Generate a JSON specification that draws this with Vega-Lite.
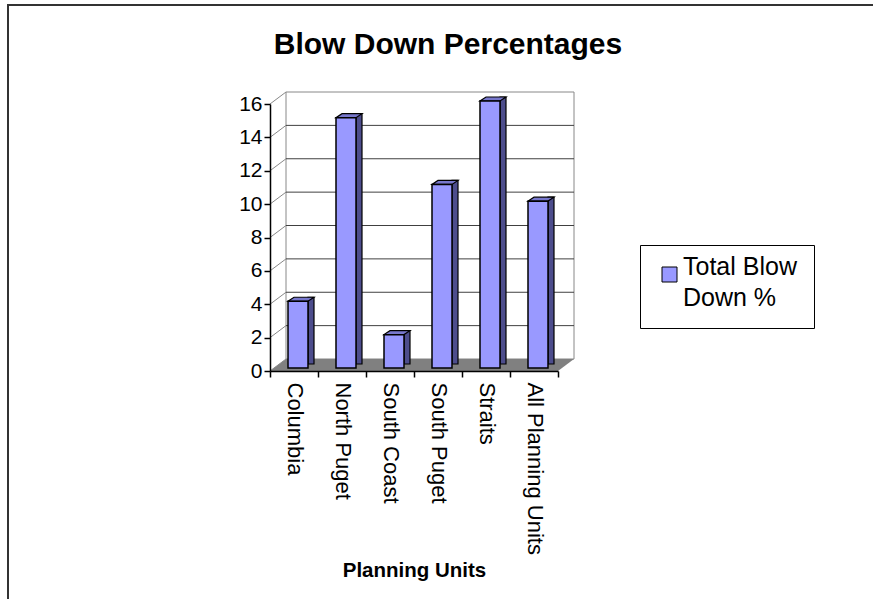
{
  "$schema": "https://vega.github.io/schema/vega-lite/v6.json",
  "width": 870,
  "height": 600,
  "autosize": {"type": "none"},
  "padding": {"left": 8, "top": 5, "right": 0, "bottom": 0},
  "background": "white",
  "config": {"font": "Liberation Sans", "view": {"stroke": "#333333", "strokeWidth": 2}, "style": {"guide-label": {"lineHeight": 31}}},
  "title": {"text": "Blow Down Percentages", "fontSize": 30, "fontWeight": "bold", "color": "black", "anchor": "middle", "frame": "group", "dx": 5, "baseline": "alphabetic", "offset": -79},
  "datasets": {
    "bars": [
      {"unit": "Columbia", "pct": 4, "series": "Total Blow Down %"},
      {"unit": "North Puget", "pct": 15, "series": "Total Blow Down %"},
      {"unit": "South Coast", "pct": 2, "series": "Total Blow Down %"},
      {"unit": "South Puget", "pct": 11, "series": "Total Blow Down %"},
      {"unit": "Straits", "pct": 16, "series": "Total Blow Down %"},
      {"unit": "All Planning Units", "pct": 10, "series": "Total Blow Down %"}
    ],
    "grid": [{"v": 0}, {"v": 2}, {"v": 4}, {"v": 6}, {"v": 8}, {"v": 10}, {"v": 12}, {"v": 14}, {"v": 16}],
    "one": [{"k": 1}]
  },
  "layer": [
    {
      "data": {"name": "one"},
      "mark": {"type": "point", "shape": "M -1 -0.927 L 1 -0.927 L 1 0.927 L -1 0.927 Z", "size": 82944, "filled": true, "fill": "white", "stroke": "#888888", "strokeWidth": 1, "opacity": 1, "xOffset": 16, "yOffset": -12},
      "encoding": {
        "x": {
          "datum": "South Puget", "bandPosition": 0,
          "scale": {"domain": ["Columbia", "North Puget", "South Coast", "South Puget", "Straits", "All Planning Units"], "range": [262, 550], "paddingInner": 0, "paddingOuter": 0},
          "axis": {"orient": "bottom", "offset": -234, "zindex": 1, "tickBand": "extent", "tickSize": 6, "tickColor": "black", "tickWidth": 1.5, "domainColor": "black", "domainWidth": 1.5, "labelAngle": 90, "labelAlign": "left", "labelBaseline": "middle", "labelFontSize": 22, "labelColor": "black", "labelPadding": 5, "labelLimit": 300, "grid": false, "title": "Planning Units", "titleFontSize": 20.5, "titleFontWeight": "bold", "titleColor": "black", "titlePadding": 6}
        },
        "y": {
          "datum": 8, "type": "quantitative",
          "scale": {"domain": [0, 16], "range": [366, 99], "nice": false, "zero": true},
          "axis": {"orient": "left", "offset": -262, "zindex": 1, "values": [0, 2, 4, 6, 8, 10, 12, 14, 16], "grid": false, "tickSize": 6, "tickColor": "black", "tickWidth": 1.5, "domainColor": "black", "domainWidth": 1.5, "labelFontSize": 21, "labelColor": "black", "labelPadding": 2, "title": null}
        }
      }
    },
    {
      "data": {"name": "one"},
      "mark": {"type": "point", "shape": "M -1 0.03947 L 0.89474 0.03947 L 1 -0.03947 L -0.89474 -0.03947 Z", "size": 92416, "filled": true, "fill": "#808080", "strokeWidth": 0, "opacity": 1, "xOffset": 8, "yOffset": -6},
      "encoding": {
        "x": {"datum": "South Puget", "bandPosition": 0},
        "y": {"datum": 0, "type": "quantitative"}
      }
    },
    {
      "data": {"name": "grid"},
      "transform": [{"filter": "datum.v > 0 && datum.v < 16"}],
      "mark": {"type": "point", "shape": "M -1 0 L 1 0", "size": 82944, "filled": false, "stroke": "#404040", "strokeWidth": 1, "opacity": 1, "xOffset": 16, "yOffset": -12},
      "encoding": {
        "x": {"datum": "South Puget", "bandPosition": 0},
        "y": {"field": "v", "type": "quantitative"}
      }
    },
    {
      "data": {"name": "grid"},
      "mark": {"type": "point", "shape": "M -1 0.75 L 1 -0.75", "size": 256, "filled": false, "stroke": "#888888", "strokeWidth": 1, "opacity": 1, "xOffset": 8, "yOffset": -6},
      "encoding": {
        "x": {"datum": "Columbia", "bandPosition": 0},
        "y": {"field": "v", "type": "quantitative"}
      }
    },
    {
      "data": {"name": "bars"},
      "mark": {"type": "bar", "width": 6, "xOffset": 17, "yOffset": -7, "y2Offset": -5, "fill": "#4d4d8c", "stroke": "black", "strokeWidth": 1.2},
      "encoding": {
        "x": {"field": "unit", "type": "nominal", "sort": null},
        "y": {"field": "pct", "type": "quantitative"}
      }
    },
    {
      "data": {"name": "bars"},
      "mark": {"type": "point", "shape": "M -1 0.1538 L 0.5385 0.1538 L 1 -0.1538 L -0.5385 -0.1538 Z", "size": 676, "filled": true, "fill": "#7777cc", "stroke": "black", "strokeWidth": 1.2, "opacity": 1, "xOffset": 7, "yOffset": -5},
      "encoding": {
        "x": {"field": "unit", "type": "nominal", "sort": null},
        "y": {"field": "pct", "type": "quantitative"}
      }
    },
    {
      "data": {"name": "bars"},
      "mark": {"type": "bar", "width": 20, "xOffset": 4, "yOffset": -3, "y2Offset": -3, "stroke": "black", "strokeWidth": 1.5, "opacity": 1},
      "encoding": {
        "x": {"field": "unit", "type": "nominal", "sort": null},
        "y": {"field": "pct", "type": "quantitative"},
        "color": {
          "field": "series", "type": "nominal",
          "scale": {"range": ["#9999ff"]},
          "legend": {"orient": "none", "legendX": 632, "legendY": 240, "title": null, "strokeColor": "black", "fillColor": "white", "padding": 17, "symbolType": "square", "symbolSize": 225, "symbolStrokeColor": "black", "symbolStrokeWidth": 1, "symbolOpacity": 1, "labelFontSize": 25, "labelOffset": 1, "labelBaseline": "alphabetic", "labelColor": "black", "labelLimit": 300, "labelExpr": "['Total Blow', 'Down %']"}
        }
      }
    }
  ]
}
